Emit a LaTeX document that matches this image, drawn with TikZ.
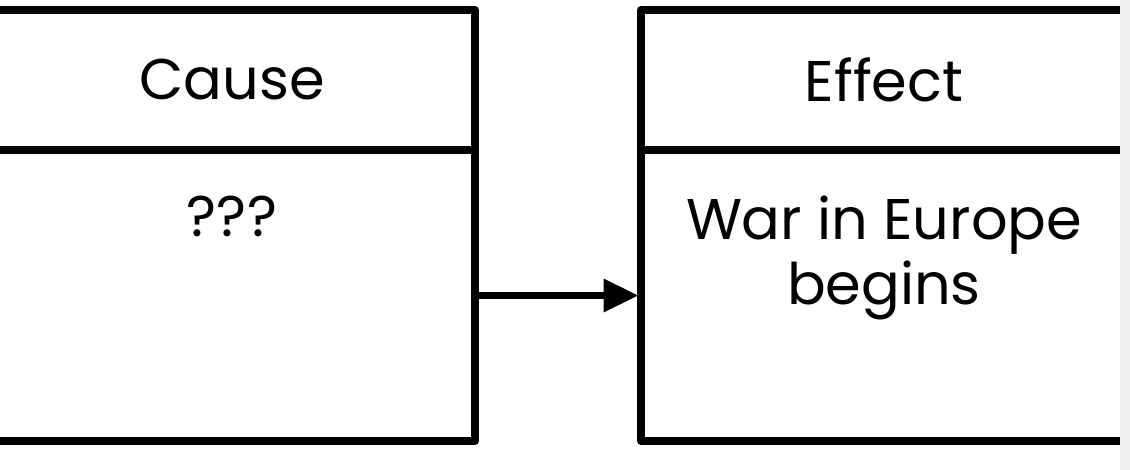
\documentclass[tikz,border=0pt]{standalone}
\usepackage{fontspec}
\setmainfont{Poppins}
\usetikzlibrary{arrows.meta,positioning}
\tikzset{
  cell/.style={draw, line width=6pt, line join=round, inner sep=0pt, outer sep=0pt, minimum width=364.5pt},
  headcell/.style={cell, minimum height=105pt, font=\fontsize{43}{49}\selectfont},
  bodycell/.style={cell, minimum height=218.25pt},
  celltext/.style={inner sep=0pt, align=center, font=\fontsize{43}{49}\selectfont}
}
\begin{document}
\begin{tikzpicture}[x=0.75pt,y=-0.75pt]
\useasboundingbox (0,0) rectangle (1130,470);
\node [headcell] (causehead) at (232,80) {Cause};
\node [bodycell, below=0pt of causehead] (causebody) {};
\node [headcell] (effecthead) at (884,80) {Effect};
\node [bodycell, below=0pt of effecthead] (effectbody) {};
\node [celltext, below=34pt of causebody.north] (causetext) {???};
\node [celltext, below=34pt of effectbody.north] (effecttext) {War in Europe\\begins};
\draw [line width=5pt, -{Triangle[length=26pt,width=24pt]}, shorten >=2pt] (causebody) -- (effectbody);
\fill [gray!12] (1120,0) rectangle (1130,470);
\end{tikzpicture}
\end{document}
